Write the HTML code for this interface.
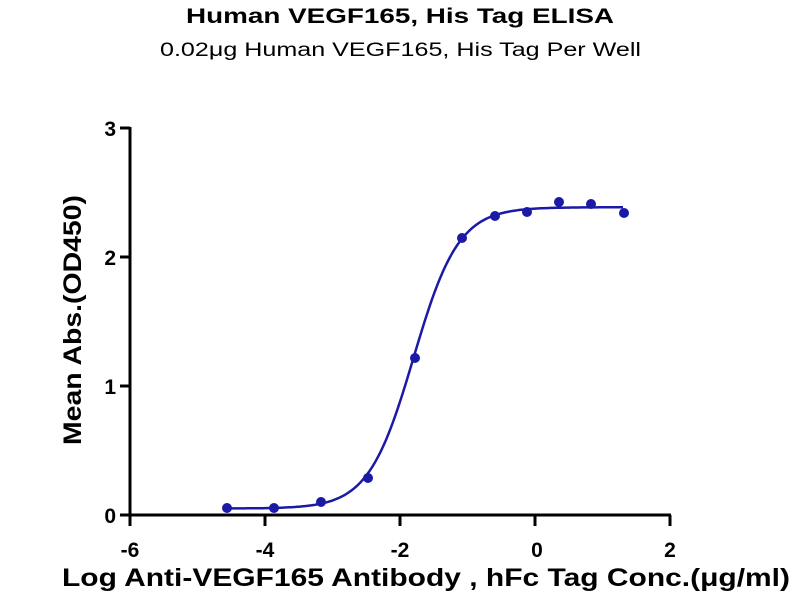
<!DOCTYPE html>
<html><head><meta charset="utf-8"><style>
body{margin:0;background:#fff;}
svg text{font-family:"Liberation Sans",Arial,sans-serif;}
</style></head><body>
<svg id="s" width="800" height="600" viewBox="0 0 800 600" xmlns="http://www.w3.org/2000/svg">
<rect width="800" height="600" fill="#fff"/>
<text x="186" y="23" textLength="428" lengthAdjust="spacingAndGlyphs" font-size="21" font-weight="bold">Human VEGF165, His Tag ELISA</text>
<text x="160" y="56" textLength="481" lengthAdjust="spacingAndGlyphs" font-size="19">0.02μg Human VEGF165, His Tag Per Well</text>
<g stroke="#000" stroke-width="3" fill="none">
<line x1="130" y1="127" x2="130" y2="516.5"/>
<line x1="128.5" y1="515" x2="671" y2="515"/>
<line x1="120" y1="128" x2="130" y2="128"/>
<line x1="120" y1="257" x2="130" y2="257"/>
<line x1="120" y1="386" x2="130" y2="386"/>
<line x1="120" y1="515" x2="130" y2="515"/>
<line x1="130" y1="515" x2="130" y2="526"/>
<line x1="265" y1="515" x2="265" y2="526"/>
<line x1="400" y1="515" x2="400" y2="526"/>
<line x1="535" y1="515" x2="535" y2="526"/>
<line x1="670" y1="515" x2="670" y2="526"/>
</g>
<g font-size="21" font-weight="bold" text-anchor="end">
<text x="116" y="136">3</text><text x="116" y="265">2</text><text x="116" y="394">1</text><text x="116" y="523">0</text>
</g>
<g font-size="21" font-weight="bold" text-anchor="middle">
<text x="130" y="557">-6</text><text x="265" y="557">-4</text><text x="400" y="557">-2</text><text x="537" y="557">0</text><text x="670" y="557">2</text>
</g>
<text x="62" y="586" textLength="728" lengthAdjust="spacingAndGlyphs" font-size="25" font-weight="bold">Log Anti-VEGF165 Antibody , hFc Tag Conc.(μg/ml)</text>
<text transform="translate(81,445) rotate(-90)" textLength="250" lengthAdjust="spacingAndGlyphs" font-size="25" font-weight="bold">Mean Abs.(OD450)</text>
<path id="c" fill="none" stroke="#1a1aa6" stroke-width="2.5"/>
<g fill="#1a1aa6">
<circle cx="227" cy="508" r="5"/><circle cx="274" cy="508" r="5"/><circle cx="321" cy="502" r="5"/>
<circle cx="368" cy="478" r="5"/><circle cx="415" cy="358" r="5"/><circle cx="462" cy="238" r="5"/>
<circle cx="495" cy="216" r="5"/><circle cx="527" cy="212" r="5"/><circle cx="559" cy="202" r="5"/>
<circle cx="591" cy="204" r="5"/><circle cx="624" cy="213" r="5"/>
</g>
</svg>
<script>
var d="";for(var px=227;px<=624;px+=2){var x=(px-130)/67.5-6;var v=0.05+2.33/(1+Math.pow(10,(-1.8-x)*1.3));var py=515-v*129.3;d+=(px==227?"M":"L")+px+","+py.toFixed(1);}
document.getElementById("c").setAttribute("d",d);
</script>
</body></html>
